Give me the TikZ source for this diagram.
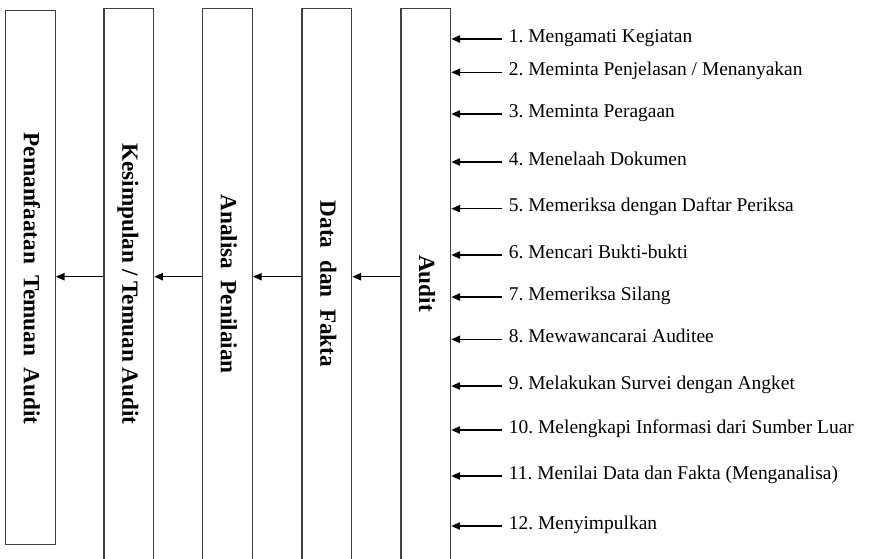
\documentclass[tikz,border=0pt]{standalone}
\usepackage{fontspec}
\setmainfont{Liberation Serif}
\usetikzlibrary{arrows.meta}
\frenchspacing
\begin{document}
\begin{tikzpicture}[x=0.75pt,y=-0.75pt,
  box/.style={draw=black!75, line width=1pt, minimum width=37.3pt, inner sep=0pt},
  stage/.style={rotate=-90, font=\bfseries\fontsize{17.4}{20}\selectfont,
    text height=0.676em, text depth=0pt, inner sep=0pt},
  item/.style={anchor=west, font=\fontsize{14.6}{17}\selectfont,
    inner xsep=5.25pt, inner ysep=0pt, text height=0.66em, text depth=0.2em},
  arr/.style={line width=0.9pt, -{Triangle[length=6.5pt,width=5.5pt]}}]
\useasboundingbox (0,0) rectangle (869,558);

% stage columns (the four right-hand ones run past the bottom edge)
\node[box, minimum height=400.2pt] (b1) at (30.3,277.5) {};
\node[box, minimum height=428.8pt] (b2) at (128.7,294.2) {};
\node[box, minimum height=428.8pt] (b3) at (227.5,294.2) {};
\node[box, minimum height=428.8pt] (b4) at (326.8,294.2) {};
\node[box, minimum height=428.8pt] (b5) at (425.8,294.2) {};

% column titles
\node[stage] (l1) at (28.3,278.5) {Pemanfaatan\ \ Temuan\ \ Audit};
\node[stage] (l2) at (126.9,284) {Kesimpulan / Temuan Audit};
\node[stage] (l3) at (225.5,284) {Analisa\ \ Penilaian};
\node[stage] (l4) at (325,284) {Data\ \ dan\ \ Fakta};
\node[stage] (l5) at (423.6,283.5) {Audit};

% flow between columns
\coordinate (mid) at (0,276.7);
\draw[arr] (b5.west |- mid) -- (b4.east |- mid);
\draw[arr] (b4.west |- mid) -- (b3.east |- mid);
\draw[arr] (b3.west |- mid) -- (b2.east |- mid);
\draw[arr] (b2.west |- mid) -- (b1.east |- mid);

% audit activities
\foreach \n/\y/\txt in {
  1/39/{1. Mengamati Kegiatan},
  2/72.3/{2. Meminta Penjelasan / Menanyakan},
  3/114/{3. Meminta Peragaan},
  4/162/{4. Menelaah Dokumen},
  5/208.7/{5. Memeriksa dengan Daftar Periksa},
  6/255/{6. Mencari Bukti-bukti},
  7/297/{7. Memeriksa Silang},
  8/339.3/{8. Mewawancarai Auditee},
  9/386/{9. Melakukan Survei dengan Angket},
  10/430/{10. Melengkapi Informasi dari Sumber Luar},
  11/476/{11. Menilai Data dan Fakta (Menganalisa)},
  12/526/{12. Menyimpulkan}}{
  \node[item] (t\n) at (501.7,\y) {\txt};
  \draw[arr] (t\n.west) -- (b5.east |- t\n.west);
}
\end{tikzpicture}
\end{document}
